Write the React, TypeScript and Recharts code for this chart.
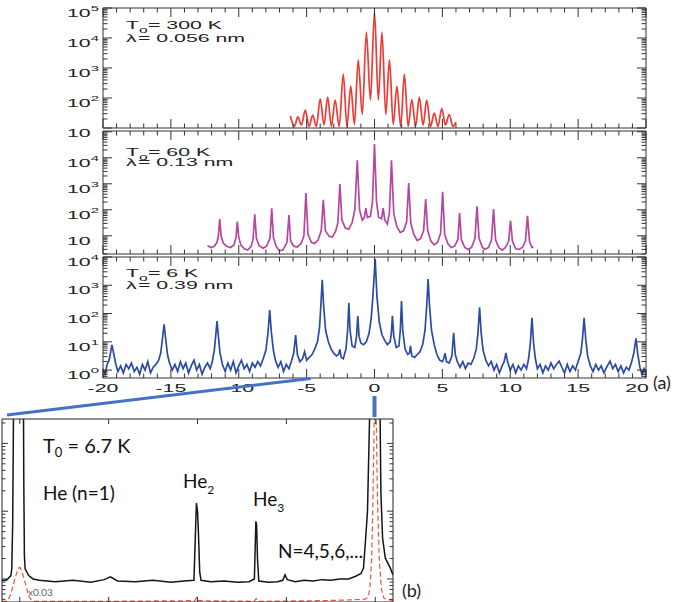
import React from "react";
import { LineChart, Line, XAxis, YAxis } from "recharts";

const FONT = '"Liberation Sans", Arial, sans-serif';
const FONT_B = 'Lato, "Open Sans", sans-serif';
const SX = 1.85; // the (a) lettering is stretched sideways in the figure

// all intensities are log10 values
// (a) top: T0 = 300 K
const red300K: [number, number][] = [
  [-6.2, 1.4], [-5.9, 1.05], [-5.65, 1.37], [-5.38, 1.1], [-5.1, 1.6], [-4.82, 1.05],
  [-4.55, 1.43], [-4.28, 1.05], [-4.0, 1.97], [-3.72, 1.1], [-3.45, 2.03], [-3.18, 1.05],
  [-2.9, 1.93], [-2.6, 1.05], [-2.3, 2.8], [-2.03, 1.05], [-1.75, 2.4], [-1.48, 1.12],
  [-1.2, 3.27], [-0.9, 1.45], [-0.6, 4.2], [-0.3, 1.93], [0, 4.87], [0.28, 1.93],
  [0.55, 4.2], [0.83, 1.45], [1.1, 3.27], [1.38, 1.12], [1.65, 2.4], [1.93, 1.05],
  [2.2, 2.8], [2.48, 1.05], [2.75, 1.95], [3.03, 1.05], [3.3, 2.03], [3.58, 1.1],
  [3.85, 1.93], [4.13, 1.05], [4.4, 1.5], [4.68, 1.05], [4.95, 1.65], [5.23, 1.1],
  [5.5, 1.45], [5.78, 1.05], [6.0, 1.2],
];

// (a) middle: T0 = 60 K
const purple60K: [number, number][] = [
  [-12.3, 0.62], [-12.05, 0.55], [-11.8, 0.6], [-11.6, 0.75], [-11.5, 1.0], [-11.4, 1.64],
  [-11.3, 1.0], [-11.15, 0.72], [-10.9, 0.6], [-10.6, 0.55], [-10.35, 0.65], [-10.2, 0.95],
  [-10.1, 1.55], [-10.0, 0.95], [-9.85, 0.65], [-9.6, 0.5], [-9.35, 0.45], [-9.1, 0.58],
  [-8.95, 0.85], [-8.82, 1.83], [-8.7, 0.9], [-8.5, 0.62], [-8.2, 0.52], [-7.95, 0.6],
  [-7.7, 0.9], [-7.57, 2.06], [-7.45, 0.95], [-7.25, 0.6], [-7.0, 0.42], [-6.75, 0.45],
  [-6.45, 0.75], [-6.3, 1.8], [-6.18, 0.8], [-5.95, 0.6], [-5.7, 0.57], [-5.4, 0.7],
  [-5.2, 1.0], [-5.05, 2.64], [-4.9, 1.05], [-4.65, 0.75], [-4.4, 0.7], [-4.15, 0.85],
  [-3.92, 1.2], [-3.77, 2.38], [-3.62, 1.2], [-3.35, 0.98], [-3.1, 0.95], [-2.85, 1.2],
  [-2.7, 1.5], [-2.55, 2.99], [-2.4, 1.6], [-2.15, 1.3], [-1.9, 1.25], [-1.65, 1.5],
  [-1.45, 2.0], [-1.27, 3.9], [-1.1, 2.0], [-0.9, 1.6], [-0.75, 1.7], [-0.64, 2.06],
  [-0.52, 1.7], [-0.3, 1.75], [-0.15, 2.3], [0, 4.53], [0.15, 2.3], [0.3, 1.72],
  [0.52, 1.65], [0.64, 2.06], [0.76, 1.6], [0.95, 1.45], [1.1, 1.9], [1.25, 3.9],
  [1.42, 1.85], [1.65, 1.35], [1.9, 1.12], [2.15, 1.2], [2.37, 1.55], [2.52, 3.03],
  [2.67, 1.5], [2.9, 1.05], [3.15, 0.82], [3.4, 0.9], [3.62, 1.2], [3.77, 2.41],
  [3.92, 1.2], [4.15, 0.8], [4.4, 0.65], [4.65, 0.75], [4.87, 1.1], [5.02, 2.69],
  [5.17, 1.05], [5.4, 0.7], [5.65, 0.55], [5.9, 0.6], [6.14, 0.85], [6.27, 1.87],
  [6.4, 0.85], [6.65, 0.55], [6.9, 0.47], [7.15, 0.55], [7.4, 0.9], [7.55, 2.13],
  [7.7, 0.9], [7.95, 0.55], [8.15, 0.48], [8.4, 0.55], [8.62, 0.85], [8.77, 2.03],
  [8.92, 0.85], [9.15, 0.55], [9.4, 0.45], [9.65, 0.55], [9.88, 0.8], [10.02, 1.59],
  [10.16, 0.8], [10.4, 0.5], [10.65, 0.48], [10.9, 0.55], [11.12, 0.8], [11.27, 1.77],
  [11.42, 0.78], [11.6, 0.55], [11.7, 0.58],
];

// (a) bottom: T0 = 6 K
const blue6K: [number, number][] = [
  [-20, 0.05], [-19.85, -0.15], [-19.7, 0.2], [-19.55, 0.35], [-19.45, 0.6], [-19.34, 0.89],
  [-19.2, 0.55], [-19.05, 0.2], [-18.9, -0.05], [-18.7, 0.15], [-18.5, -0.1], [-18.3, 0.2],
  [-18.1, 0.05], [-17.9, 0.25], [-17.7, -0.05], [-17.5, 0.1], [-17.3, -0.15], [-17.1, 0.2],
  [-16.9, 0.0], [-16.7, 0.3], [-16.5, -0.1], [-16.3, 0.1], [-16.1, 0.2], [-15.9, 0.35],
  [-15.75, 0.6], [-15.62, 1.1], [-15.5, 1.62], [-15.38, 1.1], [-15.25, 0.55], [-15.1, 0.25],
  [-14.9, 0.0], [-14.7, 0.2], [-14.5, -0.05], [-14.3, 0.3], [-14.1, 0.05], [-13.9, 0.25],
  [-13.7, -0.1], [-13.5, 0.15], [-13.3, 0.35], [-13.1, 0.0], [-12.9, 0.2], [-12.7, -0.15],
  [-12.5, 0.1], [-12.3, 0.25], [-12.1, 0.05], [-11.95, 0.3], [-11.8, 0.7], [-11.7, 1.2],
  [-11.6, 1.73], [-11.5, 1.2], [-11.38, 0.6], [-11.2, 0.2], [-11.0, -0.05], [-10.8, 0.25],
  [-10.6, 0.0], [-10.4, 0.3], [-10.2, -0.1], [-10.0, 0.15], [-9.8, 0.35], [-9.6, 0.05],
  [-9.4, 0.2], [-9.2, -0.05], [-9.0, 0.25], [-8.8, 0.1], [-8.6, 0.3], [-8.4, 0.15],
  [-8.2, 0.4], [-8.0, 0.7], [-7.85, 1.3], [-7.72, 2.12], [-7.6, 1.35], [-7.45, 0.7],
  [-7.3, 0.35], [-7.1, 0.1], [-6.9, 0.3], [-6.7, -0.05], [-6.5, 0.2], [-6.3, 0.05],
  [-6.1, 0.35], [-5.95, 0.6], [-5.81, 1.24], [-5.68, 0.55], [-5.5, 0.3], [-5.3, 0.4],
  [-5.15, 0.65], [-5.0, 0.35], [-4.8, 0.45], [-4.6, 0.55], [-4.4, 0.75], [-4.2, 1.0],
  [-4.05, 1.5], [-3.95, 2.3], [-3.85, 3.19], [-3.75, 2.3], [-3.6, 1.4], [-3.4, 1.0],
  [-3.2, 0.75], [-3.0, 0.6], [-2.8, 0.5], [-2.65, 0.55], [-2.55, 0.73], [-2.45, 0.45],
  [-2.3, 0.4], [-2.1, 0.75], [-1.98, 1.4], [-1.89, 2.38], [-1.8, 1.4], [-1.65, 0.85],
  [-1.45, 0.8], [-1.32, 1.2], [-1.23, 1.91], [-1.14, 1.2], [-1.0, 0.95], [-0.8, 0.9],
  [-0.6, 1.0], [-0.4, 1.3], [-0.25, 1.8], [-0.12, 2.6], [0.05, 3.93], [0.18, 2.6],
  [0.35, 1.7], [0.55, 1.25], [0.75, 1.05], [0.95, 0.9], [1.15, 1.0], [1.24, 1.3],
  [1.32, 1.92], [1.42, 1.2], [1.6, 0.8], [1.8, 0.85], [1.9, 1.4], [1.99, 2.44],
  [2.08, 1.4], [2.25, 0.75], [2.45, 0.55], [2.58, 0.6], [2.65, 0.86], [2.75, 0.5],
  [2.95, 0.45], [3.15, 0.55], [3.35, 0.65], [3.55, 0.9], [3.72, 1.4], [3.85, 2.3],
  [3.95, 3.22], [4.05, 2.3], [4.2, 1.4], [4.4, 0.9], [4.6, 0.55], [4.8, 0.35],
  [5.0, 0.3], [5.1, 0.4], [5.2, 0.6], [5.3, 0.3], [5.5, 0.25], [5.7, 0.5],
  [5.83, 1.32], [5.95, 0.55], [6.1, 0.3], [6.3, 0.1], [6.5, 0.3], [6.7, 0.05],
  [6.9, 0.25], [7.1, 0.2], [7.3, 0.4], [7.5, 0.75], [7.62, 1.3], [7.74, 2.22],
  [7.86, 1.3], [8.0, 0.7], [8.2, 0.35], [8.4, 0.15], [8.6, 0.3], [8.8, 0.0],
  [9.0, 0.2], [9.2, -0.1], [9.4, 0.15], [9.55, 0.3], [9.68, 0.61], [9.8, 0.3],
  [10.0, 0.0], [10.2, 0.2], [10.4, -0.1], [10.6, 0.15], [10.8, 0.0], [11.0, 0.2],
  [11.2, 0.05], [11.35, 0.4], [11.48, 0.95], [11.6, 1.85], [11.72, 0.95], [11.85, 0.4],
  [12.0, 0.05], [12.2, 0.2], [12.4, -0.1], [12.6, 0.15], [12.8, 0.0], [13.0, 0.25],
  [13.2, 0.05], [13.4, 0.2], [13.6, 0.32], [13.8, 0.1], [14.0, -0.1], [14.2, 0.2],
  [14.4, -0.05], [14.6, 0.15], [14.8, 0.0], [15.0, 0.3], [15.2, 0.6], [15.32, 1.1],
  [15.44, 1.85], [15.56, 1.1], [15.7, 0.5], [15.9, 0.15], [16.1, -0.05], [16.3, 0.2],
  [16.5, 0.0], [16.7, 0.15], [16.9, -0.1], [17.1, 0.1], [17.35, 0.32], [17.55, 0.05],
  [17.75, 0.2], [17.95, -0.05], [18.15, 0.15], [18.35, -0.1], [18.55, 0.1], [18.75, 0.0],
  [18.95, 0.3], [19.1, 0.6], [19.26, 1.12], [19.4, 0.55], [19.55, 0.1], [19.7, -0.15],
  [19.85, 0.05], [20, -0.1],
];

// (b): T0 = 6.7 K, black trace and scaled (x0.03) red trace
const black67K: [number, number][] = [
  [-4.2, -0.02], [-4.15, -0.02], [-4.1, 0.05], [-4.09, 0.15], [-4.08, 0.8], [-4.073, 2.0],
  [-4.068, 3.0], [-3.96, 3.0], [-3.955, 1.5], [-3.948, 0.35], [-3.94, 0.15], [-3.9, 0.05],
  [-3.85, 0.0], [-3.78, -0.02], [-3.6, -0.04], [-3.4, -0.02], [-3.2, -0.05], [-3.05, -0.01],
  [-2.98, 0.03], [-2.9, -0.03], [-2.7, -0.04], [-2.5, -0.02], [-2.3, -0.05], [-2.15, -0.03],
  [-2.04, -0.02], [-2.025, 0.6], [-2.012, 1.12], [-2.0, 1.0], [-1.99, 0.7], [-1.975, 0.1],
  [-1.96, -0.02], [-1.85, -0.04], [-1.7, -0.03], [-1.55, -0.05], [-1.42, -0.04], [-1.36, 0.0],
  [-1.35, 0.5], [-1.343, 0.85], [-1.335, 0.8], [-1.325, 0.3], [-1.31, -0.03], [-1.2, -0.05],
  [-1.1, -0.04], [-1.04, -0.02], [-1.015, 0.06], [-0.99, -0.01], [-0.9, -0.04], [-0.8, -0.02],
  [-0.7, -0.03], [-0.6, -0.01], [-0.5, -0.02], [-0.4, 0.0], [-0.3, 0.0], [-0.22, 0.04],
  [-0.16, 0.08], [-0.132, 0.16], [-0.113, 0.5], [-0.087, 1.0], [-0.064, 2.35], [-0.055, 3.0],
  [0.05, 3.0], [0.064, 1.26], [0.083, 0.6], [0.113, 0.31], [0.17, 0.16], [0.2, 0.06],
];

const red67K: [number, number][] = [
  [-4.2, -0.33], [-4.14, -0.33], [-4.1, -0.22], [-4.06, -0.02], [-4.02, 0.15], [-4.0, 0.17],
  [-3.98, 0.13], [-3.94, -0.05], [-3.9, -0.25], [-3.86, -0.33], [-3.0, -0.33], [-2.03, -0.32],
  [-2.006, -0.27], [-1.99, -0.32], [-1.36, -0.33], [-1.34, -0.29], [-1.32, -0.33], [-0.6, -0.32],
  [-0.3, -0.31], [-0.12, -0.3], [-0.08, -0.27], [-0.06, -0.15], [-0.04, 0.3], [-0.025, 1.2],
  [-0.01, 2.5], [0.0, 3.0], [0.01, 2.5], [0.025, 1.2], [0.045, 0.3], [0.07, -0.15],
  [0.1, -0.29], [0.2, -0.32],
];

const xTicksA = [
  -20, -19, -18, -17, -16, -15, -14, -13, -12, -11, -10, -9, -8, -7, -6, -5, -4, -3, -2, -1,
  0, 1, 2, 3, 4, 5, 6, 7, 8, 9, 10, 11, 12, 13, 14, 15, 16, 17, 18, 19, 20,
];
const xLabelsA = [-20, -15, -10, -5, 0, 5, 10, 15, 20];
const xTicksB = [-4, -3, -2, -1, 0];

// exponent shown next to each major y tick ("" = plain "10")
const yLabels300K: Record<number, string> = { 5: "5", 4: "4", 3: "3", 2: "2", 1: "" };
const yLabels60K: Record<number, string> = { 4: "4", 3: "3", 2: "2", 1: "" };
const yLabels6K: Record<number, string> = { 4: "4", 3: "3", 2: "2", 1: "1", 0: "0" };

const toPts = (a: [number, number][]) => a.map(([x, y]) => ({ x, y }));

// decade + minor log positions inside the domain
function logTicks(lo: number, hi: number) {
  const out: number[] = [];
  for (let n = Math.floor(lo); n <= Math.ceil(hi); n++) {
    for (let k = 1; k < 10; k++) {
      const v = +(n + Math.log10(k)).toFixed(4);
      if (v >= lo - 1e-6 && v <= hi + 1e-6) out.push(v);
    }
  }
  return out;
}

function YTick(props: any) {
  const { x, y, payload, side, labels, majorLen = 9, minorLen = 4.5 } = props;
  const v = payload.value;
  const major = Math.abs(v - Math.round(v)) < 1e-6;
  const dir = side === "left" ? 1 : -1;
  const len = major ? majorLen : minorLen;
  const exp = major && labels ? labels[Math.round(v)] : undefined;
  return (
    <g>
      <line x1={x} x2={x + dir * len} y1={y} y2={y} stroke="#333" strokeWidth={1} />
      {exp !== undefined && (
        <g transform={`translate(${x - 36},${y + 9}) scale(${SX},1)`}>
          <text fontFamily={FONT} fontSize={11.5} fill="#222">
            10
            {exp !== "" && (
              <tspan fontSize={8} dy={-6}>
                {exp}
              </tspan>
            )}
          </text>
        </g>
      )}
    </g>
  );
}

function XTick(props: any) {
  const { x, y, payload, dir, labels, flat } = props;
  const v = payload.value;
  const major = flat || v % 5 === 0;
  const len = flat ? 5 : major ? 9 : 4.5;
  const show = labels && labels.includes(v);
  return (
    <g>
      <line x1={x} x2={x} y1={y} y2={y + dir * len} stroke="#333" strokeWidth={1} />
      {show && (
        <g transform={`translate(${x + (v === 20 ? -9 : 0)},${y + 14}) scale(${SX},1)`}>
          <text fontFamily={FONT} fontSize={11.5} fill="#222" textAnchor="middle">
            {v}
          </text>
        </g>
      )}
    </g>
  );
}

// panel (a) geometry
const A_LEFT = 103;
const A_RIGHT = 646;
const xa = (v: number) => A_LEFT + ((v + 20) / 40) * (A_RIGHT - A_LEFT);

type PanelProps = {
  data: [number, number][];
  color: string;
  curve: "monotone" | "linear";
  top: number;
  bottom: number;
  domain: [number, number];
  labels: Record<number, string>;
  xLabels?: number[];
};

function PanelA({ data, color, curve, top, bottom, domain, labels, xLabels }: PanelProps) {
  const bottomH = xLabels ? 24 : 6;
  const extra = 14; // room below the plot so the lowest y label is not clipped
  const height = bottom - top + 8 + bottomH + extra;
  const yt = logTicks(domain[0], domain[1]);
  return (
    <div style={{ position: "absolute", left: 0, top: top - 8 }}>
      <LineChart
        width={685}
        height={height}
        data={toPts(data)}
        margin={{ top: 2, right: 29, bottom: extra, left: 63 }}
      >
        <XAxis
          xAxisId="b"
          dataKey="x"
          type="number"
          domain={[-20, 20]}
          ticks={xTicksA}
          interval={0}
          height={bottomH}
          tickSize={0}
          tickMargin={0}
          axisLine={{ stroke: "#333" }}
          tick={<XTick dir={-1} labels={xLabels} />}
          allowDataOverflow
        />
        <XAxis
          xAxisId="t"
          orientation="top"
          dataKey="x"
          type="number"
          domain={[-20, 20]}
          ticks={xTicksA}
          interval={0}
          height={6}
          tickSize={0}
          tickMargin={0}
          axisLine={{ stroke: "#333" }}
          tick={<XTick dir={1} />}
          allowDataOverflow
        />
        <YAxis
          yAxisId="l"
          type="number"
          domain={domain}
          ticks={yt}
          interval={0}
          width={40}
          tickSize={0}
          tickMargin={0}
          axisLine={{ stroke: "#333" }}
          tick={<YTick side="left" labels={labels} />}
          allowDataOverflow
        />
        <YAxis
          yAxisId="r"
          orientation="right"
          type="number"
          domain={domain}
          ticks={yt}
          interval={0}
          width={10}
          tickSize={0}
          tickMargin={0}
          axisLine={{ stroke: "#333" }}
          tick={<YTick side="right" />}
          allowDataOverflow
        />
        {/* invisible copy that ties the top and right frame axes to the data */}
        <Line
          xAxisId="t"
          yAxisId="r"
          dataKey="y"
          type="linear"
          stroke="none"
          dot={false}
          activeDot={false}
          isAnimationActive={false}
        />
        <Line
          xAxisId="b"
          yAxisId="l"
          dataKey="y"
          type={curve}
          stroke={color}
          strokeWidth={1.7}
          dot={false}
          isAnimationActive={false}
        />
      </LineChart>
    </div>
  );
}

function PanelB() {
  const domain: [number, number] = [-0.34, 2.36];
  const yt = logTicks(domain[0], domain[1]);
  return (
    <div style={{ position: "absolute", left: 0, top: 415 }}>
      <LineChart width={685} height={189} margin={{ top: 2, right: 290, bottom: 0, left: 0 }}>
        <XAxis
          xAxisId="b"
          dataKey="x"
          type="number"
          domain={[-4.2, 0.2]}
          ticks={xTicksB}
          interval={0}
          height={2}
          tickSize={0}
          tickMargin={0}
          axisLine={{ stroke: "#222" }}
          tick={<XTick dir={-1} flat />}
          allowDataOverflow
        />
        <XAxis
          xAxisId="t"
          orientation="top"
          dataKey="x"
          type="number"
          domain={[-4.2, 0.2]}
          ticks={xTicksB}
          interval={0}
          height={2}
          tickSize={0}
          tickMargin={0}
          axisLine={{ stroke: "#222" }}
          tick={<XTick dir={1} flat />}
          allowDataOverflow
        />
        <YAxis
          yAxisId="l"
          type="number"
          domain={domain}
          ticks={yt}
          interval={0}
          width={2}
          tickSize={0}
          tickMargin={0}
          axisLine={{ stroke: "#222" }}
          tick={<YTick side="left" majorLen={6} minorLen={3.5} />}
          allowDataOverflow
        />
        <YAxis
          yAxisId="r"
          orientation="right"
          type="number"
          domain={domain}
          ticks={yt}
          interval={0}
          width={2}
          tickSize={0}
          tickMargin={0}
          axisLine={{ stroke: "#222" }}
          tick={<YTick side="right" majorLen={6} minorLen={3.5} />}
          allowDataOverflow
        />
        <Line
          xAxisId="t"
          yAxisId="r"
          data={toPts(black67K)}
          dataKey="y"
          type="linear"
          stroke="none"
          dot={false}
          activeDot={false}
          isAnimationActive={false}
        />
        <Line
          xAxisId="b"
          yAxisId="l"
          data={toPts(red67K)}
          dataKey="y"
          type="linear"
          stroke="#e8553a"
          strokeWidth={1.2}
          strokeDasharray="5 3"
          dot={false}
          isAnimationActive={false}
        />
        <Line
          xAxisId="b"
          yAxisId="l"
          data={toPts(black67K)}
          dataKey="y"
          type="linear"
          stroke="#151515"
          strokeWidth={1.5}
          dot={false}
          isAnimationActive={false}
        />
      </LineChart>
    </div>
  );
}

function Stretched({ x, y, size = 11.5, children }: { x: number; y: number; size?: number; children: React.ReactNode }) {
  return (
    <g transform={`translate(${x},${y}) scale(${SX},1)`}>
      <text fontFamily={FONT} fontSize={size} fill="#222">
        {children}
      </text>
    </g>
  );
}

function Note({ y1, y2, temp, lam }: { y1: number; y2: number; temp: string; lam: string }) {
  return (
    <g>
      <Stretched x={126} y={y1}>T</Stretched>
      <Stretched x={139} y={y1 + 4} size={8.5}>o</Stretched>
      <Stretched x={148} y={y1}>{`= ${temp}`}</Stretched>
      <Stretched x={126} y={y2}>{"λ"}</Stretched>
      <Stretched x={138} y={y2}>{`= ${lam}`}</Stretched>
    </g>
  );
}

export default function App() {
  return (
    <div style={{ position: "absolute", left: 0, top: 0, width: 685, height: 602, overflow: "hidden", background: "#fff" }}>
      <PanelA data={red300K} color="#ee3a34" curve="monotone" top={8} bottom={128} domain={[1, 5]} labels={yLabels300K} />
      <PanelA data={purple60K} color="#b5479f" curve="linear" top={131} bottom={254} domain={[0.3, 5.03]} labels={yLabels60K} />
      <PanelA data={blue6K} color="#2d4aa5" curve="linear" top={257} bottom={378} domain={[-0.28, 4]} labels={yLabels6K} xLabels={xLabelsA} />
      <PanelB />
      <svg width={685} height={602} style={{ position: "absolute", left: 0, top: 0, pointerEvents: "none" }}>
        <line x1={7} y1={415} x2={xa(-5) + 4} y2={378.5} stroke="#4472c4" strokeWidth={3} />
        <line x1={xa(0)} y1={396} x2={xa(0)} y2={417} stroke="#4472c4" strokeWidth={4} />
        <Note y1={29} y2={41.5} temp="300 K" lam="0.056 nm" />
        <Note y1={155.5} y2={166} temp="60 K" lam="0.13 nm" />
        <Note y1={277} y2={289} temp="6 K" lam="0.39 nm" />
        <text x={653} y={389} fontFamily={FONT_B} fontSize={18} fill="#222">(a)</text>
        <text x={402} y={597} fontFamily={FONT_B} fontSize={18} fill="#222">(b)</text>
        <g fontFamily={FONT_B} fill="#111">
          <text x={43} y={453} fontSize={20}>
            T<tspan fontSize={13} dy={4}>0</tspan>
            <tspan dy={-4}>{"  = 6.7 K"}</tspan>
          </text>
          <text x={43} y={500} fontSize={19}>He (n=1)</text>
          <text x={183} y={488} fontSize={19}>
            He<tspan fontSize={12} dy={6}>2</tspan>
          </text>
          <text x={253} y={506} fontSize={19}>
            He<tspan fontSize={12} dy={6}>3</tspan>
          </text>
          <text x={278} y={558} fontSize={19}>N=4,5,6,...</text>
          <text x={28} y={596} fontSize={10} fill="#666">x0.03</text>
        </g>
      </svg>
    </div>
  );
}
